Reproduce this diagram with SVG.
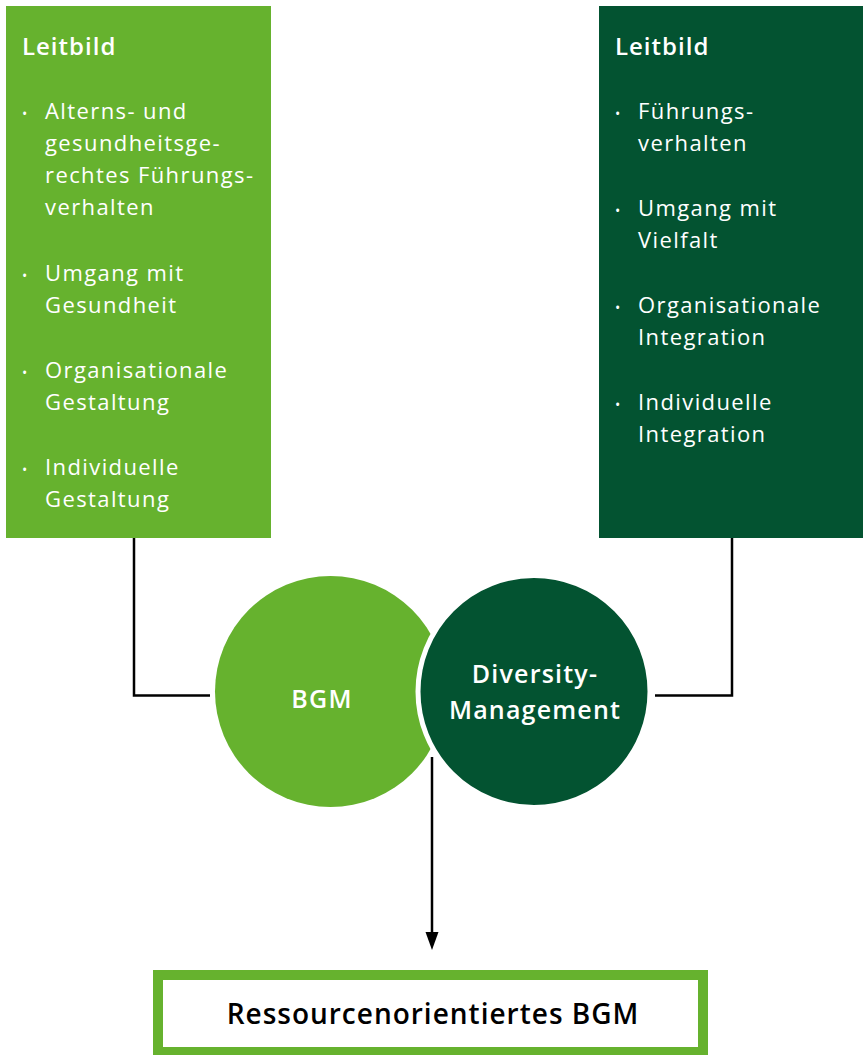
<svg xmlns="http://www.w3.org/2000/svg" width="863" height="1055" viewBox="0 0 863 1055">
<defs>
<style>
.t{font-family:"Open Sans","Liberation Sans",sans-serif;fill:#fff;font-size:22px;letter-spacing:1.4px}
.h{font-family:"Open Sans","Liberation Sans",sans-serif;fill:#fff;font-size:24px;font-weight:600;letter-spacing:1px}
.b{font-family:"Open Sans","Liberation Sans",sans-serif;fill:#fff;font-size:14px}
.c{font-family:"Open Sans","Liberation Sans",sans-serif;fill:#fff;font-size:25px;font-weight:600;text-anchor:middle;letter-spacing:1.2px}
.conn{fill:none;stroke:#000;stroke-width:2.5}
</style>
</defs>
<rect width="863" height="1055" fill="#fff"/>
<g id="connectors">
<polyline class="conn" points="134,538 134,695.5 210,695.5"/>
<polyline class="conn" points="732,538 732,695.5 655,695.5"/>
<line x1="432" y1="757" x2="432" y2="932" stroke="#000" stroke-width="2.5"/>
<path d="M425.5,932 L438.5,932 L432,950 Z" fill="#000"/>
</g>
<g id="leitbild-bgm">
<rect x="6" y="6" width="265" height="532" fill="#66b22e"/>
<text class="h" x="22" y="55">Leitbild</text>
<text class="b" x="22" y="119">•</text>
<text class="t" x="45" y="119">Alterns- und</text>
<text class="t" x="45" y="151">gesundheitsge-</text>
<text class="t" x="45" y="183">rechtes Führungs-</text>
<text class="t" x="45" y="215">verhalten</text>
<text class="b" x="22" y="281">•</text>
<text class="t" x="45" y="281">Umgang mit</text>
<text class="t" x="45" y="313">Gesundheit</text>
<text class="b" x="22" y="378">•</text>
<text class="t" x="45" y="378">Organisationale</text>
<text class="t" x="45" y="410">Gestaltung</text>
<text class="b" x="22" y="475">•</text>
<text class="t" x="45" y="475">Individuelle</text>
<text class="t" x="45" y="507">Gestaltung</text>
</g>
<g id="leitbild-diversity">
<rect x="599" y="6" width="264" height="532" fill="#035331"/>
<text class="h" x="615" y="55">Leitbild</text>
<text class="b" x="615" y="119">•</text>
<text class="t" x="638" y="119">Führungs-</text>
<text class="t" x="638" y="151">verhalten</text>
<text class="b" x="615" y="216">•</text>
<text class="t" x="638" y="216">Umgang mit</text>
<text class="t" x="638" y="248">Vielfalt</text>
<text class="b" x="615" y="313">•</text>
<text class="t" x="638" y="313">Organisationale</text>
<text class="t" x="638" y="345">Integration</text>
<text class="b" x="615" y="410">•</text>
<text class="t" x="638" y="410">Individuelle</text>
<text class="t" x="638" y="442">Integration</text>
</g>
<g id="bgm">
<circle cx="330.5" cy="691.5" r="115.5" fill="#66b22e"/>
<text class="c" x="322" y="708">BGM</text>
</g>
<g id="diversity">
<circle cx="534" cy="691.5" r="116" fill="#035331" stroke="#fff" stroke-width="5"/>
<text class="c" x="535" y="683">Diversity-</text>
<text class="c" x="535" y="719">Management</text>
</g>
<g id="ressourcen">
<rect x="158" y="975" width="545" height="77" fill="#fff" stroke="#66b22e" stroke-width="10"/>
<text x="433" y="1024" text-anchor="middle" font-family="Open Sans, Liberation Sans, sans-serif" font-size="28" font-weight="600" letter-spacing="1" fill="#000">Ressourcenorientiertes BGM</text>
</g>
</svg>
